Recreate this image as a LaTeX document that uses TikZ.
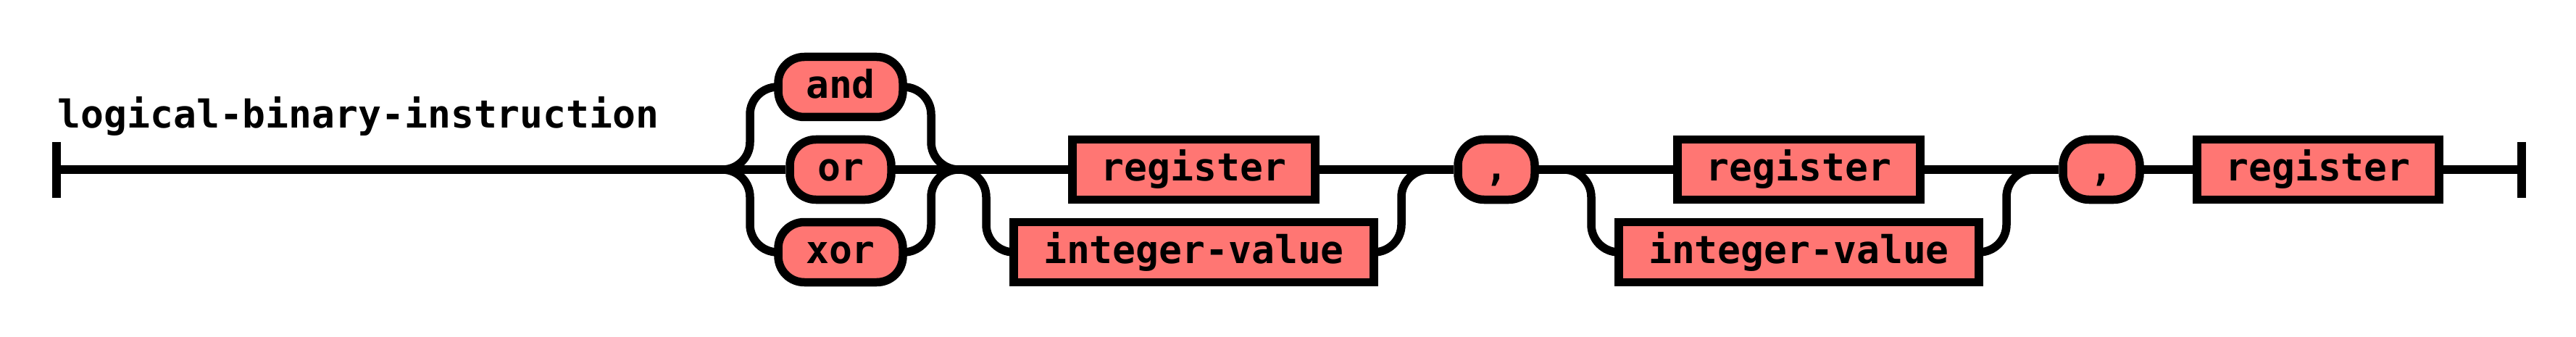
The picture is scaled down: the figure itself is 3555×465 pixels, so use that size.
\documentclass[tikz,border=0pt]{standalone}
\usepackage{fontspec}
\setmonofont{DejaVu Sans Mono}
\definecolor{rrfill}{RGB}{255,118,115}
\begin{document}
\begin{tikzpicture}[x=1pt,y=-1pt,line width=11.5pt,
  rrfont/.style={font=\fontsize{53pt}{60pt}\selectfont\ttfamily\bfseries},
  term/.style={draw,fill=rrfill,rounded corners=36pt,minimum height=83pt,inner sep=0pt,text height=40pt,text depth=9pt,rrfont},
  nonterm/.style={term,sharp corners},
  conn/.style={line width=11.5pt,rounded corners=38pt}]
\useasboundingbox (0,0) rectangle (3555,465);
% title
\node[anchor=base west,inner sep=0pt,rrfont] (title) at (74,177) {logical-binary-instruction};
% nodes
\node[term,minimum width=172pt] (and) at (1160,120) {and};
\node[term,minimum width=140pt] (or) at (1160,234) {or};
\node[term,minimum width=172pt] (xor) at (1160,348) {xor};
\node[nonterm,minimum width=335pt] (reg1) at (1647.5,234) {register};
\node[nonterm,minimum width=497pt] (int1) at (1647.5,348) {integer-value};
\node[term,minimum width=106pt] (c1) at (2065,234) {,};
\node[nonterm,minimum width=335pt] (reg2) at (2482.5,234) {register};
\node[nonterm,minimum width=497pt] (int2) at (2482.5,348) {integer-value};
\node[term,minimum width=106pt] (c2) at (2900,234) {,};
\node[nonterm,minimum width=334pt] (reg3) at (3199,234) {register};
% junction coordinates
\coordinate (s) at (78,234);
\coordinate (j1) at (997,234);
\coordinate (j2) at (1323,234);
\coordinate (j3) at (1972,234);
\coordinate (j4) at (2158,234);
\coordinate (j5) at (2807,234);
\coordinate (e) at (3480,234);
% start and end bars
\draw (s) ++(0,-38) -- ++(0,77);
\draw (e) ++(0,-38) -- ++(0,77);
% main line
\draw[conn] (s) -- (j1);
% choice and/or/xor
\draw[conn] (j1) -- (or.west);
\draw[conn] (j1) -| (1035,120) -- (and.west);
\draw[conn] (j1) -| (1035,348) -- (xor.west);
\draw[conn] (or.east) -- (j2);
\draw[conn] (and.east) -| (1285,234) -- (j2);
\draw[conn] (xor.east) -| (1285,234) -- (j2);
% choice register / integer-value
\draw[conn] (j2) -- (reg1.west);
\draw[conn] (j2) -| (1361,348) -- (int1.west);
\draw[conn] (reg1.east) -- (j3);
\draw[conn] (int1.east) -| (1934,234) -- (j3);
\draw[conn] (j3) -- (c1.west);
\draw[conn] (c1.east) -- (j4);
% second choice
\draw[conn] (j4) -- (reg2.west);
\draw[conn] (j4) -| (2196,348) -- (int2.west);
\draw[conn] (reg2.east) -- (j5);
\draw[conn] (int2.east) -| (2769,234) -- (j5);
\draw[conn] (j5) -- (c2.west);
\draw[conn] (c2.east) -- (reg3.west);
\draw[conn] (reg3.east) -- (e);
\end{tikzpicture}
\end{document}
